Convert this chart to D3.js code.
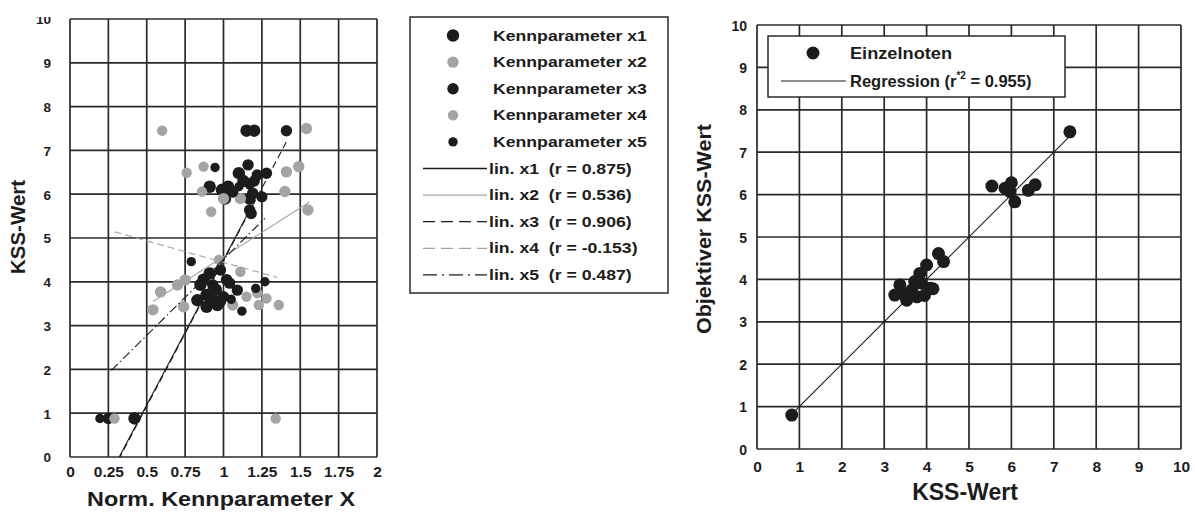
<!DOCTYPE html>
<html>
<head>
<meta charset="utf-8">
<script src="https://cdn.jsdelivr.net/npm/d3@7"></script>
<style>
  body { margin: 0; background: #fff; }
  text { font-family: "Liberation Sans", Arial, sans-serif; font-weight: bold; fill: #1c1c1c; }
</style>
</head>
<body>
<svg id="chart" width="1195" height="512"></svg>
<script>
// ---- Left panel: KSS value against normalised characteristic parameters ----
const normTicks = [0, 0.25, 0.5, 0.75, 1, 1.25, 1.5, 1.75, 2];
const normTickLabels = ["0", "0.25", "0.5", "0.75", "1", "1.25", "1.5", "1.75", "2"];
const kssTicks = [0, 1, 2, 3, 4, 5, 6, 7, 8, 9, 10];

const seriesNames = ["Kennparameter x1", "Kennparameter x2", "Kennparameter x3", "Kennparameter x4", "Kennparameter x5"];

const x1Points = [[0.42, 0.88], [1.15, 7.45], [1.2, 7.45], [1.10, 6.48], [0.91, 6.17], [0.99, 6.1],
  [1.03, 6.17], [1.01, 5.9], [1.17, 5.9], [0.85, 3.93], [0.83, 3.58], [0.89, 3.43], [0.89, 3.7],
  [0.96, 3.47], [0.91, 4.19], [0.93, 3.6], [0.95, 3.82], [0.87, 4.05], [1.13, 6.3]];
const x2Points = [[1.54, 7.5], [1.41, 6.51], [1.49, 6.63], [1.40, 6.06], [1.55, 5.64], [1.11, 5.9],
  [1.0, 5.9], [0.59, 3.77], [0.70, 3.93], [0.75, 4.04], [0.54, 3.36], [0.74, 3.43], [1.06, 3.47]];
const x3Points = [[0.25, 0.88], [1.41, 7.45], [1.22, 6.44], [1.28, 6.48], [1.16, 6.67], [1.25, 5.94],
  [1.19, 6.02], [1.17, 5.64], [1.18, 5.56], [1.0, 3.66], [0.93, 3.93], [1.04, 3.97], [1.09, 3.81],
  [0.98, 4.27], [1.02, 4.05], [0.98, 3.55], [1.2, 6.3], [1.06, 6.05]];
const x4Points = [[0.29, 0.88], [1.34, 0.88], [0.6, 7.45], [0.76, 6.49], [0.87, 6.63], [0.86, 6.06],
  [0.92, 5.6], [1.23, 3.47], [1.28, 3.62], [1.36, 3.47], [1.22, 3.74], [1.15, 3.66], [0.97, 4.5], [1.11, 4.23]];
const x5Points = [[0.195, 0.88], [0.945, 6.61], [1.10, 6.17], [1.17, 6.21], [0.79, 4.46], [1.27, 4.0],
  [1.21, 3.85], [1.12, 3.33], [1.05, 3.6], [0.92, 3.55]];

// Fitted lines, given by their end points
const fitNames = ["lin. x1  (r = 0.875)", "lin. x2  (r = 0.536)", "lin. x3  (r = 0.906)",
  "lin. x4  (r = -0.153)", "lin. x5  (r = 0.487)"];
const fitX1 = [[0.2, -0.8], [1.15, 5.5]];
const fitX2 = [[0.54, 3.55], [1.56, 5.82]];
const fitX3 = [[0.25, -0.5], [1.41, 7.2]];
const fitX4 = [[0.29, 5.14], [1.35, 4.1]];
const fitX5 = [[0.27, 1.98], [1.27, 5.45]];

// ---- Right panel: objective KSS value against KSS value ----
const singleGrades = [[0.82, 0.8], [3.25, 3.63], [3.37, 3.87], [3.53, 3.51], [3.65, 3.75], [3.77, 3.59],
  [3.84, 4.14], [3.88, 3.91], [4.0, 4.34], [4.08, 3.79], [4.28, 4.61], [4.4, 4.42],
  [3.45, 3.65], [3.95, 3.62], [4.15, 3.78], [3.72, 3.95],
  [5.54, 6.2], [5.85, 6.15], [5.97, 6.07], [6.0, 6.28], [6.08, 5.83], [6.4, 6.1], [6.56, 6.23], [7.38, 7.48]];
const regressionLine = [[0.85, 0.85], [7.42, 7.42]];

const BLACK = "#1c1c1c", GREY = "#a4a4a4", GRID = "#2a2a2a";

const svg = d3.select("#chart");

const seriesStyle = [
  { pts: x1Points, color: BLACK, r: 6.2 },
  { pts: x2Points, color: GREY, r: 5.7 },
  { pts: x3Points, color: BLACK, r: 5.7 },
  { pts: x4Points, color: GREY, r: 5.2 },
  { pts: x5Points, color: BLACK, r: 4.7 }
];
const fitStyle = [
  { pts: fitX1, color: BLACK, dash: null },
  { pts: fitX2, color: GREY, dash: null },
  { pts: fitX3, color: BLACK, dash: "7,4" },
  { pts: fitX4, color: GREY, dash: "7,4" },
  { pts: fitX5, color: BLACK, dash: "9,3,1.5,3" }
];

// Widen bold text horizontally by a factor (the left figure uses a wide face)
function widen(sel, k) {
  sel.each(function () {
    const w = this.getComputedTextLength();
    d3.select(this).attr("textLength", w * k).attr("lengthAdjust", "spacingAndGlyphs");
  });
}

function drawGrid(g, x, y, xt, yt) {
  const [x0, x1] = x.range(), [y0, y1] = y.range();
  g.append("g").selectAll("line").data(xt).join("line")
    .attr("x1", d => x(d)).attr("x2", d => x(d)).attr("y1", y0).attr("y2", y1)
    .attr("stroke", GRID).attr("stroke-width", 1.7);
  g.append("g").selectAll("line").data(yt).join("line")
    .attr("x1", x0).attr("x2", x1).attr("y1", d => y(d)).attr("y2", d => y(d))
    .attr("stroke", GRID).attr("stroke-width", 1.7);
}

function drawAxes(g, x, y, xt, xfmt, yt, opt) {
  const ax = g.append("g").attr("transform", `translate(0,${y.range()[0] + opt.xOff})`)
    .call(d3.axisBottom(x).tickValues(xt).tickFormat(xfmt).tickSize(0).tickPadding(0));
  ax.select(".domain").remove();
  ax.selectAll("text").attr("font-size", opt.xSize).attr("font-family", null).attr("dy", "0.36em");
  const ay = g.append("g").attr("transform", `translate(${x.range()[0] - opt.yOff},0)`)
    .call(d3.axisLeft(y).tickValues(yt).tickFormat(d3.format("d")).tickSize(0).tickPadding(0));
  ay.select(".domain").remove();
  ay.selectAll("text").attr("font-size", opt.ySize).attr("font-family", null).attr("dy", "0.36em");
  return ay;
}

// ---------- left panel ----------
const xL = d3.scaleLinear().domain([0, 2]).range([70, 377]);
const yL = d3.scaleLinear().domain([0, 10]).range([457, 19]);
const left = svg.append("g");

svg.append("clipPath").attr("id", "clipL").append("rect")
  .attr("x", 70).attr("y", 19).attr("width", 307).attr("height", 438);
// top label of the left scale is cut by the figure's upper edge
svg.append("clipPath").attr("id", "clipTop").append("rect")
  .attr("x", -70).attr("y", 17).attr("width", 80).attr("height", 480);

drawGrid(left, xL, yL, normTicks, kssTicks);
const ayL = drawAxes(left, xL, yL, normTicks, (d, i) => normTickLabels[i], kssTicks,
  { xOff: 14, xSize: 15.5, yOff: 19, ySize: 13.5 });
ayL.attr("clip-path", "url(#clipTop)");

const plotL = left.append("g").attr("clip-path", "url(#clipL)");
seriesStyle.forEach(s => {
  plotL.append("g").selectAll("circle").data(s.pts).join("circle")
    .attr("cx", d => xL(d[0])).attr("cy", d => yL(d[1])).attr("r", s.r).attr("fill", s.color);
});
const lineL = d3.line().x(d => xL(d[0])).y(d => yL(d[1]));
fitStyle.forEach(f => {
  plotL.append("path").attr("d", lineL(f.pts)).attr("fill", "none")
    .attr("stroke", f.color).attr("stroke-width", 1.1)
    .attr("stroke-dasharray", f.dash);
});

left.append("text").attr("x", 87).attr("y", 506)
  .attr("font-size", 19.5).attr("textLength", 268).attr("lengthAdjust", "spacingAndGlyphs")
  .text("Norm. Kennparameter X");
left.append("text").attr("transform", "translate(25,227) rotate(-90)").attr("text-anchor", "middle")
  .attr("font-size", 20.5).text("KSS-Wert");

// left legend
const legL = svg.append("g");
legL.append("rect").attr("x", 410).attr("y", 17).attr("width", 258).attr("height", 276)
  .attr("fill", "#fff").attr("stroke", GRID).attr("stroke-width", 1.5);
const rowY = i => 35.5 + i * 26.6;
seriesNames.forEach((name, i) => {
  legL.append("circle").attr("cx", 453).attr("cy", rowY(i)).attr("r", seriesStyle[i].r)
    .attr("fill", seriesStyle[i].color);
  legL.append("text").attr("x", 493).attr("y", rowY(i)).attr("dy", "0.36em")
    .attr("font-size", 14).text(name).call(widen, 1.26);
});
fitNames.forEach((name, i) => {
  const yy = rowY(i + 5);
  legL.append("line").attr("x1", 423).attr("x2", 487).attr("y1", yy).attr("y2", yy)
    .attr("stroke", fitStyle[i].color).attr("stroke-width", 1.3)
    .attr("stroke-dasharray", fitStyle[i].dash ? (i === 4 ? "14,5,2,5" : "12,6") : null);
  legL.append("text").attr("x", 489).attr("y", yy).attr("dy", "0.36em")
    .attr("font-size", 14).attr("xml:space", "preserve").style("white-space", "pre")
    .text(name).call(widen, 1.26);
});

// ---------- right panel ----------
const xR = d3.scaleLinear().domain([0, 10]).range([757, 1181]);
const yR = d3.scaleLinear().domain([0, 10]).range([449, 25]);
const right = svg.append("g");
drawGrid(right, xR, yR, kssTicks, kssTicks);
drawAxes(right, xR, yR, kssTicks, d3.format("d"), kssTicks,
  { xOff: 17, xSize: 15.5, yOff: 10, ySize: 14 });

right.append("path").attr("d", d3.line().x(d => xR(d[0])).y(d => yR(d[1]))(regressionLine))
  .attr("fill", "none").attr("stroke", BLACK).attr("stroke-width", 1.1);
right.append("g").selectAll("circle").data(singleGrades).join("circle")
  .attr("cx", d => xR(d[0])).attr("cy", d => yR(d[1])).attr("r", 6.5).attr("fill", BLACK);

right.append("text").attr("x", 965).attr("y", 500).attr("text-anchor", "middle")
  .attr("font-size", 23).text("KSS-Wert");
right.append("text").attr("transform", "translate(711,229) rotate(-90)").attr("text-anchor", "middle")
  .attr("font-size", 21).attr("textLength", 210).attr("lengthAdjust", "spacingAndGlyphs")
  .text("Objektiver KSS-Wert");

// right legend
const legR = svg.append("g");
legR.append("rect").attr("x", 768).attr("y", 36).attr("width", 297).attr("height", 61)
  .attr("fill", "#fff").attr("stroke", GRID).attr("stroke-width", 1.5);
legR.append("circle").attr("cx", 813).attr("cy", 53).attr("r", 6.5).attr("fill", BLACK);
legR.append("text").attr("x", 850).attr("y", 53).attr("dy", "0.36em").attr("font-size", 16.5)
  .attr("textLength", 102).attr("lengthAdjust", "spacingAndGlyphs").text("Einzelnoten");
legR.append("line").attr("x1", 781).attr("x2", 846).attr("y1", 81).attr("y2", 81)
  .attr("stroke", BLACK).attr("stroke-width", 1.2);
const regText = legR.append("text").attr("x", 850).attr("y", 81).attr("dy", "0.36em").attr("font-size", 16.5);
regText.append("tspan").text("Regression (r");
regText.append("tspan").attr("font-size", 10).attr("dy", "-0.8em").text("*2");
regText.append("tspan").attr("dy", "0.5em").text(" = 0.955)");
</script>
</body>
</html>
